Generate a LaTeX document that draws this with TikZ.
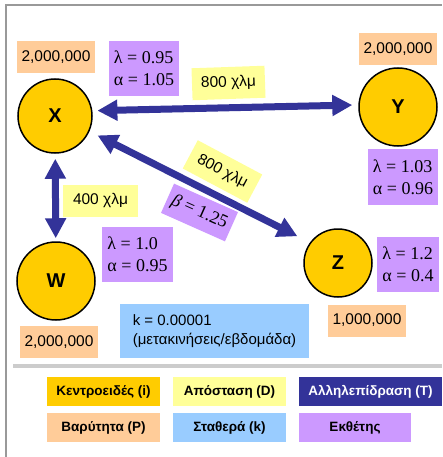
\documentclass[tikz,border=0pt]{standalone}
\usepackage{fontspec}
\setmainfont{Liberation Serif}
\setsansfont{Liberation Sans}
\usetikzlibrary{arrows.meta}

\definecolor{kentro}{HTML}{FFCC00}
\definecolor{apost}{HTML}{FFFF99}
\definecolor{allil}{HTML}{333399}
\definecolor{varyt}{HTML}{FFCC99}
\definecolor{stath}{HTML}{99CCFF}
\definecolor{ekth}{HTML}{CC99FF}

\tikzset{
  centroid/.style={circle, draw=black, line width=1.5pt, fill=kentro,
    minimum size=74pt, inner sep=0pt, font=\sffamily\bfseries\fontsize{20}{20}\selectfont},
  popbox/.style={fill=varyt, minimum width=78pt, minimum height=32pt, inner sep=0pt,
    font=\sffamily\fontsize{15.5}{16}\selectfont},
  expbox/.style={fill=ekth, minimum height=55pt, inner xsep=5pt, inner ysep=2pt,
    align=left, font=\fontsize{18}{22}\selectfont},
  distbox/.style={fill=apost, minimum width=73pt, minimum height=32pt, inner sep=0pt,
    font=\sffamily\fontsize{15.5}{16}\selectfont},
  link/.style={draw=allil, line width=7pt,
    {Triangle[length=20pt,width=20pt]}-{Triangle[length=20pt,width=20pt]}},
  keybox/.style={minimum width=113pt, minimum height=29pt, inner sep=0pt,
    font=\sffamily\bfseries\fontsize{13.5}{14}\selectfont}
}

\begin{document}
\begin{tikzpicture}[x=1pt,y=-1pt]
  \useasboundingbox (0,0) rectangle (442,457);
  % Πλαίσιο
  \draw[gray!80, line width=2pt] (6,457) -- (6,5) -- (442,5);
  \draw[gray!40, line width=4pt] (13,366) -- (442,366);

  % Κεντροειδή
  \node[centroid] (X) at (55,116) {X};
  \node[centroid, minimum size=78pt] (Y) at (398,107) {Y};
  \node[centroid, minimum size=78pt] (W) at (56,281) {W};
  \node[centroid, minimum size=68pt] (Z) at (338,263) {Z};

  % Πληθυσμοί
  \node[popbox] (popX) at (56,57) {2,000,000};
  \node[popbox] (popY) at (398,49.5) {2,000,000};
  \node[popbox] (popW) at (59,342) {2,000,000};
  \node[popbox] (popZ) at (367,320.5) {1,000,000};

  % Εκθέτες
  \node[expbox] (expX) at (144,68.5) {λ = 0.95\\α = 1.05};
  \node[expbox] (expY) at (403,177) {λ = 1.03\\α = 0.96};
  \node[expbox] (expW) at (137.5,254.5) {λ = 1.0\\α = 0.95};
  \node[expbox] (expZ) at (408,264.5) {λ = 1.2\\α = 0.4};

  % Αλληλεπιδράσεις
  \draw[link, shorten <=5pt, shorten >=6pt] (X.8) -- (Y.177);
  \draw[link, shorten <=5pt, shorten >=3pt] (X) -- (W);
  \draw[link, shorten <=9pt, shorten >=14pt] (X.-24) -- (Z.144);

  % Αποστάσεις
  \node[distbox, rotate=2] (dXY) at (228.5,83) {800 χλμ};
  \node[distbox, minimum width=75pt] (dXW) at (100.5,200.5) {400 χλμ};
  \node[distbox, rotate=-28] (dXZ) at (222.5,171.5) {800 χλμ};
  \node[fill=ekth, minimum width=70pt, minimum height=32pt, inner sep=0pt,
    rotate=-24, font=\fontsize{18}{20}\selectfont] (beta) at (199.5,212.5) {\textit{β} = 1.25};

  % Σταθερά
  \node[fill=stath, minimum width=189pt, minimum height=54pt, inner xsep=10pt,
    align=left, font=\sffamily\fontsize{15}{19}\selectfont] (k) at (214.5,331)
    {k = 0.00001\\(μετακινήσεις/εβδομάδα)};

  % Υπόμνημα
  \node[keybox, fill=kentro] (keyI) at (103.5,391.5) {Κεντροειδές (i)};
  \node[keybox, fill=apost] (keyD) at (229.5,391.5) {Απόσταση (D)};
  \node[keybox, fill=allil, text=white, minimum width=143pt] (keyT) at (370.5,391.5) {Αλληλεπίδραση (T)};
  \node[keybox, fill=varyt] (keyP) at (103.5,427.5) {Βαρύτητα (P)};
  \node[keybox, fill=stath] (keyK) at (229.5,427.5) {Σταθερά (k)};
  \node[keybox, fill=ekth, minimum width=112pt] (keyE) at (355,427.5) {Εκθέτης};
\end{tikzpicture}
\end{document}
